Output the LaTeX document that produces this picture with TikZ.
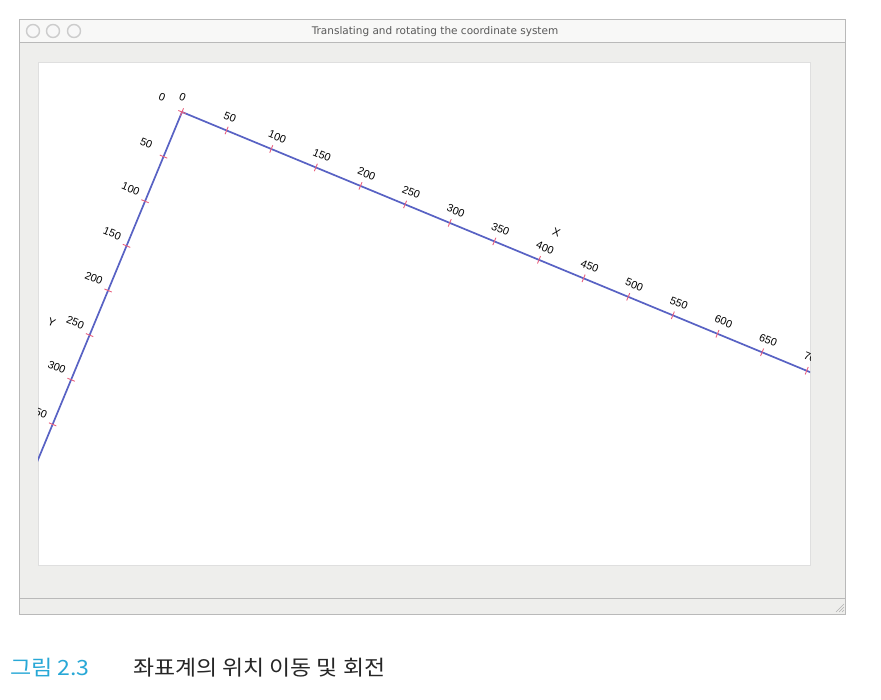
\documentclass[tikz,border=0pt]{standalone}
\usepackage{fontspec}
\setmainfont{Liberation Sans}
\newfontfamily\titlefont{DejaVu Sans}
\newfontfamily\krfont{Noto Sans CJK KR}
\usetikzlibrary{arrows}

\begin{document}
\begin{tikzpicture}[x=1pt, y=-1pt,
    %Option for pixel-like coordinates
    inner sep=0pt, outer sep=0pt,%
    axis/.style={line width=1.7pt, color=axisblue, line cap=round},
    tickmark/.style={line width=0.9pt, color=tickred},
    numlabel/.style={font=\fontsize{10.8}{10.8}\selectfont, rotate=-22.5, anchor=west},
    axislabel/.style={font=\fontsize{11}{11}\selectfont, rotate=-22.5},
    frameline/.style={draw=gray!55, line width=0.6pt},
    button/.style={draw=gray!40, line width=1.4pt, fill=gray!6},
    caption/.style={anchor=west, font=\krfont\fontsize{21}{21}\selectfont},
]
    % Colors
    \definecolor{axisblue}{RGB}{88,98,196}
    \definecolor{tickred}{RGB}{234,96,126}
    \definecolor{windowgray}{RGB}{238,238,236}
    \definecolor{captioncyan}{RGB}{40,168,214}

    \useasboundingbox (0,0) rectangle (881,700);

    % Window
    \fill[windowgray] (19,19) rectangle (845,614);
    \fill[white!60!windowgray] (19,19) rectangle (845,42);
    \draw[frameline] (19,19) rectangle (845,614);
    \draw[frameline] (19,42) -- (845,42);
    \draw[frameline] (19,598) -- (845,598);
    \draw[draw=gray!25, fill=white] (38,62) rectangle (810,565);
    \foreach \bx in {33,53,74}
        \draw[button] (\bx,31) circle (6.5);
    \node[font=\titlefont\fontsize{10.5}{10.5}\selectfont, text=black!65] (title) at (435,32)
        {Translating and rotating the coordinate system};
    \foreach \g in {0,3,6}
        \draw[gray!60, line width=0.6pt] (844,604+\g) -- (836+\g,612);

    % Rotated coordinate system
    \begin{scope}
        \clip (38,62) rectangle (810,565);
        \begin{scope}[shift={(182,112)}, rotate=-22.5]
            \coordinate (O) at (0,0);
            \coordinate (xend) at (720,0);
            \coordinate (yend) at (0,420);
            \draw[axis] (O) -- (xend);
            \draw[axis] (O) -- (yend);

            %Ticks and numbers on X
            \foreach \k [evaluate=\k as \d using \k*48.3,
                         evaluate=\k as \n using int(\k*50)] in {0,...,14} {
                \draw[tickmark] (\d,-4) -- (\d,4);
                \node[numlabel] (xl\k) at (\d-8,-13.5) {\n};
            }
            %Ticks and numbers on Y
            \foreach \k [evaluate=\k as \d using \k*48.3,
                         evaluate=\k as \n using int(\k*50)] in {0,...,8} {
                \draw[tickmark] (-4,\d) -- (4,\d);
                \node[numlabel] (yl\k) at (-27,\d-6) {\n};
            }
            \node[axislabel] (xname) at (392,-32) {X};
            \node[axislabel] (yname) at (-40,244) {Y};
        \end{scope}
    \end{scope}

    % Caption
    \node[caption, text=captioncyan] (fignum) at (10,668) {\scalebox{1.1}[1]{그림 2.3}};
    \node[caption, text=black!85] (figtitle) at (133,668) {\scalebox{1.09}[1]{좌표계의 위치 이동 및 회전}};
\end{tikzpicture}
\end{document}
